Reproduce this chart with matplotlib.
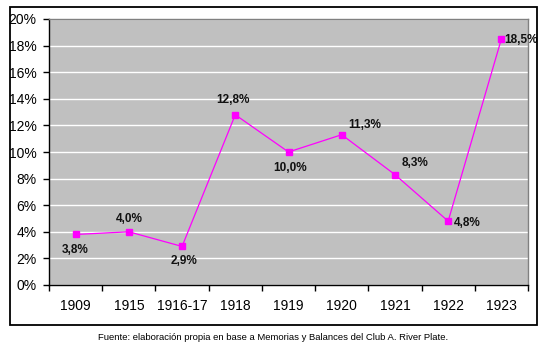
import numpy as np
import matplotlib
matplotlib.use('Agg')
import matplotlib.pyplot as plt
from matplotlib.patches import Rectangle
from matplotlib.ticker import FuncFormatter

years = ['1909', '1915', '1916-17', '1918', '1919', '1920', '1921', '1922', '1923']
values = [3.8, 4.0, 2.9, 12.8, 10.0, 11.3, 8.3, 4.8, 18.5]
# where each data label sits relative to its point (pixels) and its alignment
label_offsets = [(0, -16), (0, 13), (2, -15), (-2, 15), (2, -16), (7, 10), (7, 12), (6, -2), (3, -1)]
label_align = ['center', 'center', 'center', 'center', 'center', 'left', 'left', 'left', 'left']

plt.rcParams['font.family'] = ['Liberation Sans', 'DejaVu Sans']

W, H = 545, 349
fig = plt.figure(figsize=(W / 100, H / 100), dpi=100)

# outer chart frame
fig.patches.append(Rectangle((10 / W, 1 - 325 / H), 527 / W, 318 / H, transform=fig.transFigure,
                             fill=False, edgecolor='black', linewidth=1.3))

ax = fig.add_axes([49 / W, 1 - 285 / H, 479 / W, 266 / H])
ax.set_facecolor('#C0C0C0')

x = np.arange(len(years))
ax.plot(x, values, color='#FF00FF', linewidth=0.9, marker='s', markersize=4.8,
        markerfacecolor='#FF00FF', markeredgecolor='#FF00FF', zorder=3)

for xi, v, off, ha in zip(x, values, label_offsets, label_align):
    ax.annotate(f'{v:.1f}%'.replace('.', ','), (xi, v), xytext=off, textcoords='offset pixels',
                ha=ha, va='center', fontsize=8.5, fontweight='bold', color='#111111')

ax.set_xlim(-0.5, len(years) - 0.5)
ax.set_ylim(0, 20)
ax.set_yticks(np.arange(0, 21, 2))
ax.yaxis.set_major_formatter(FuncFormatter(lambda v, p: f'{v:.0f}%'))
ax.grid(axis='y', color='white', linewidth=1.0)
ax.set_axisbelow(True)

# category labels centred, ticks on the boundaries
ax.set_xticks(x)
ax.set_xticklabels(years)
ax.set_xticks(np.arange(-0.5, len(years)), minor=True)
ax.tick_params(axis='x', which='major', length=0, pad=10, labelsize=10)
ax.tick_params(axis='x', which='minor', length=4, width=1, direction='out', color='black')
ax.tick_params(axis='y', length=4, width=1, direction='out', pad=5, labelsize=10)

for s in ['top', 'right']:
    ax.spines[s].set_color('#808080')
    ax.spines[s].set_linewidth(1)
for s in ['left', 'bottom']:
    ax.spines[s].set_color('black')
    ax.spines[s].set_linewidth(1)

fig.text(273 / W, 1 - 337 / H,
         'Fuente: elaboración propia en base a Memorias y Balances del Club A. River Plate.',
         ha='center', va='center', fontsize=6.8)

fig.savefig('out.png', dpi=100)
